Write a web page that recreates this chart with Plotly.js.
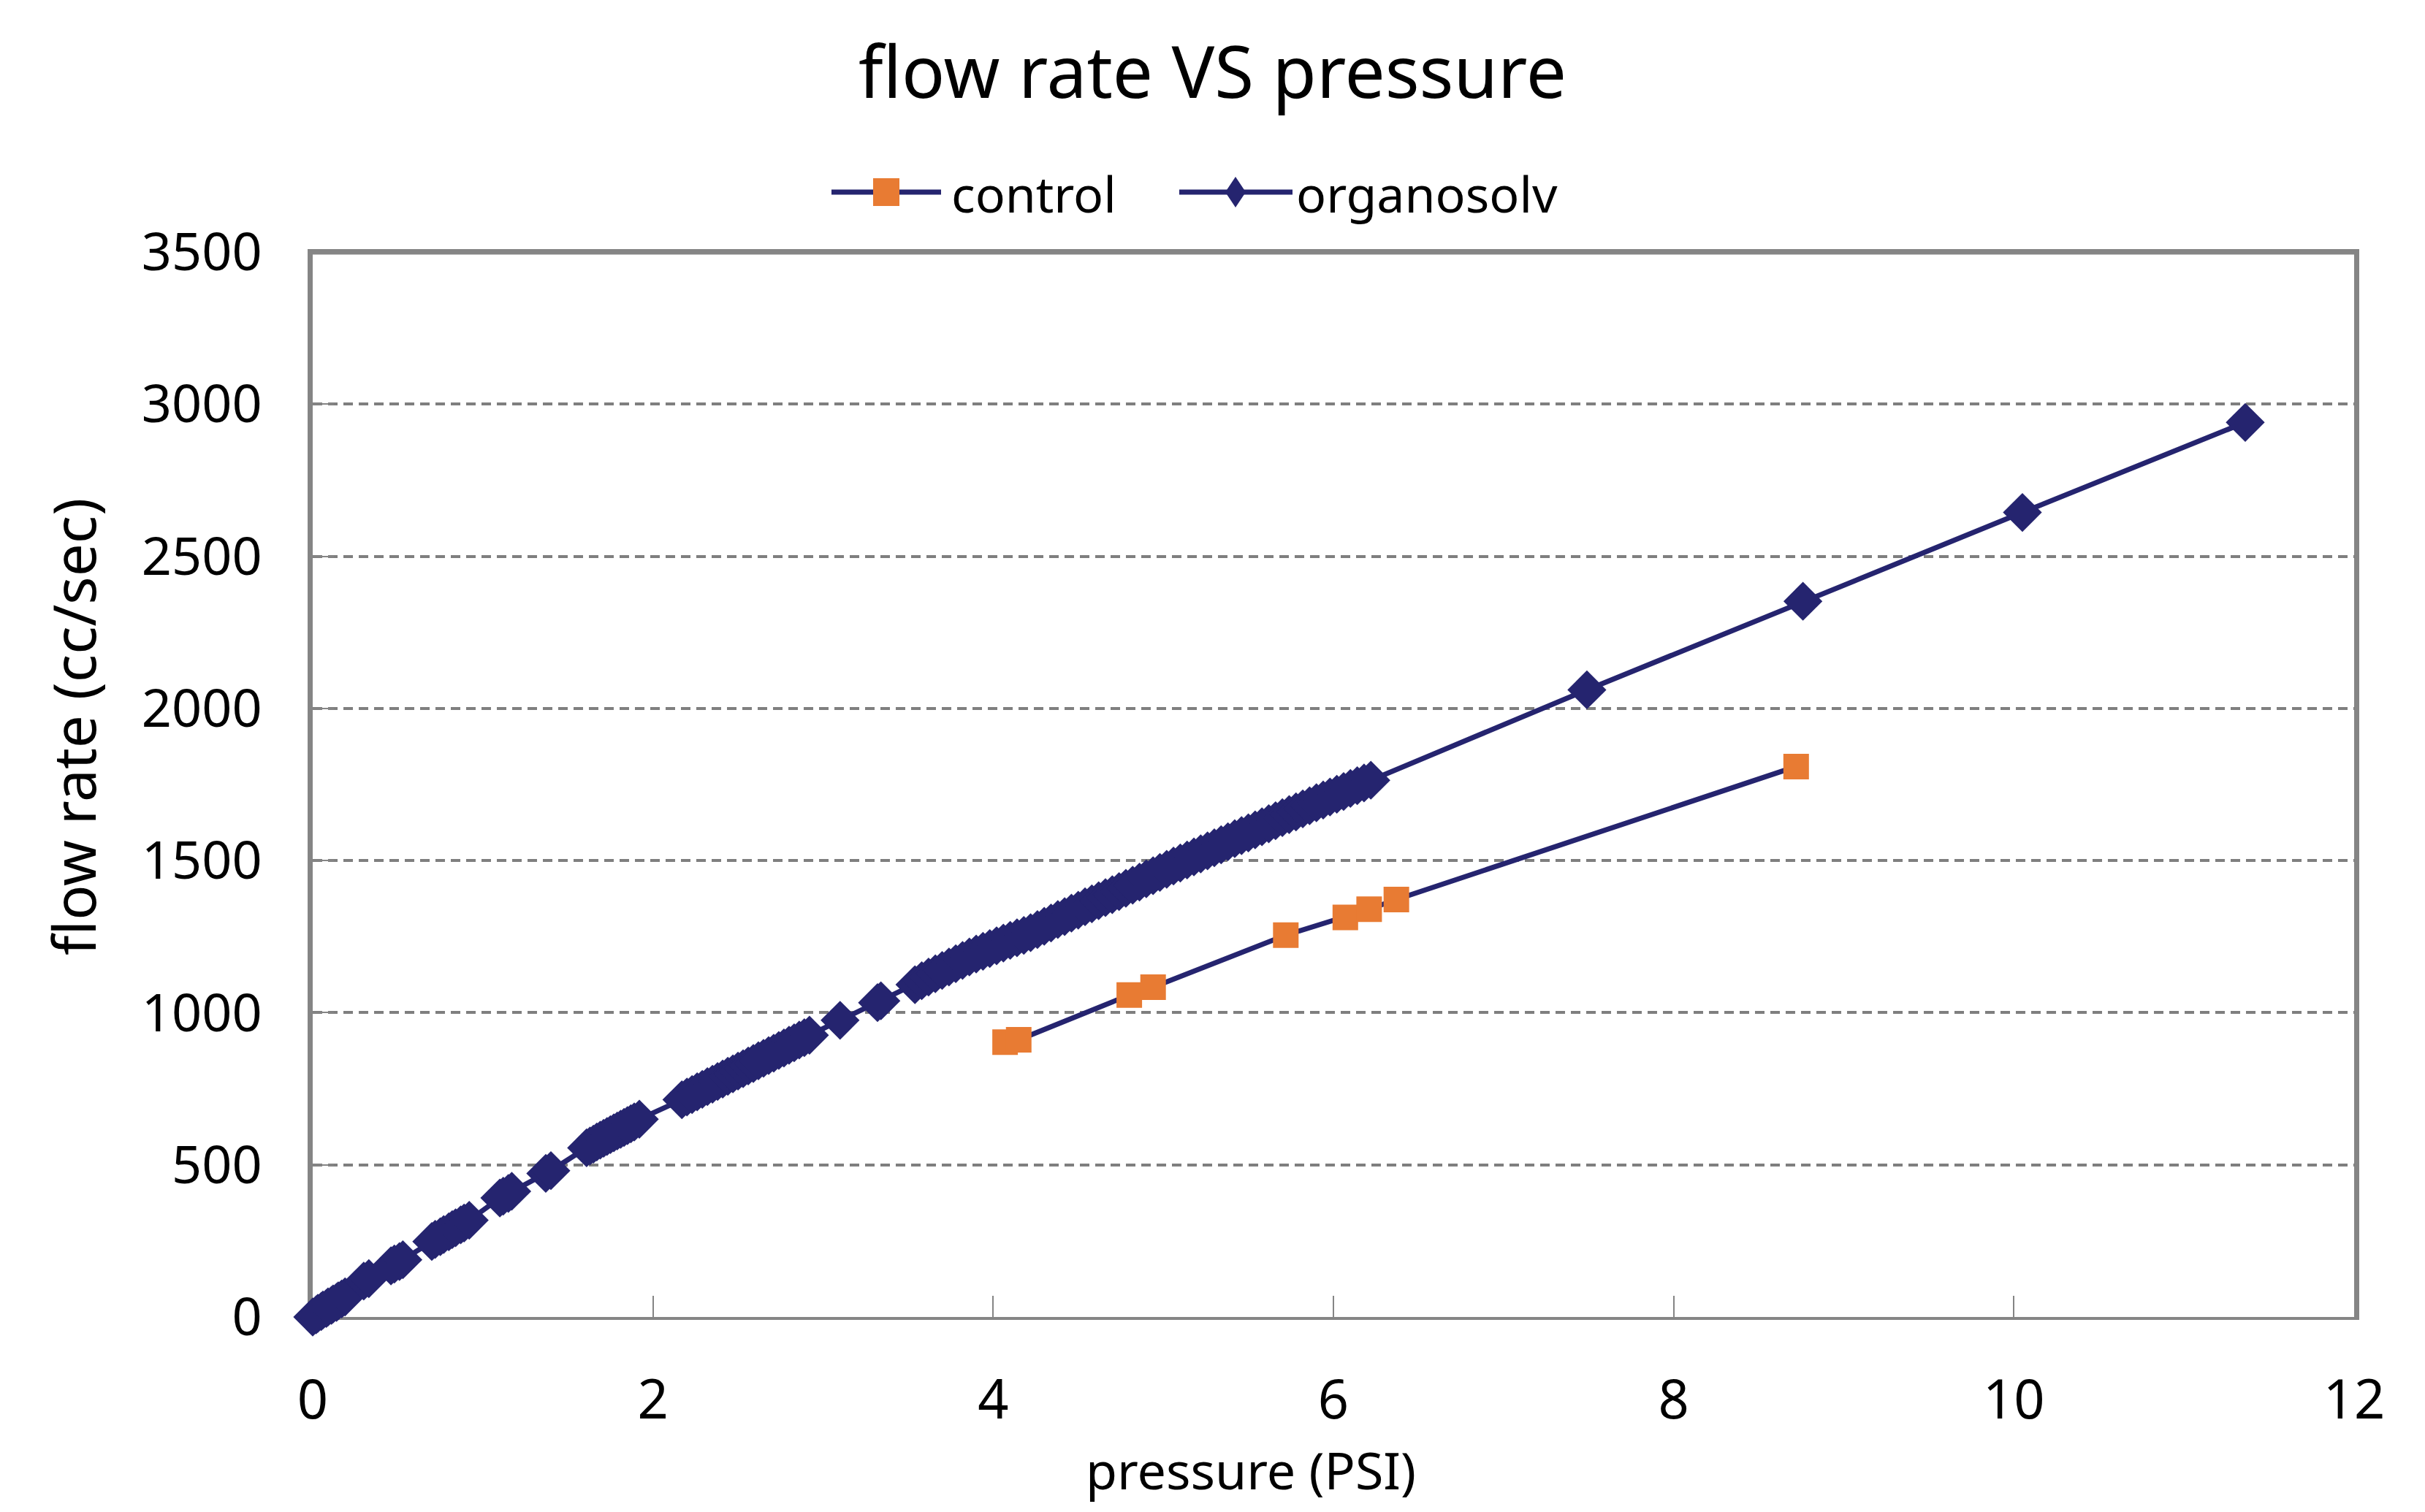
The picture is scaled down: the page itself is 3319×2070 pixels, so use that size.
<!DOCTYPE html>
<html>
<head>
<meta charset="utf-8">
<script src="https://cdn.plot.ly/plotly-3.0.1.min.js"></script>
<style>html,body{margin:0;padding:0;background:#ffffff;}</style>
</head>
<body>
<div id="chart" style="width:3319px;height:2070px;"></div>
<script>
// ---- data ----
const controlPressure = [4.07, 4.15, 4.80, 4.94, 5.72, 6.07, 6.21, 6.37, 8.72];
const controlFlow     = [903, 911, 1058, 1084, 1255, 1313, 1340, 1372, 1809];

const organosolvPressure = [
  0.00,0.02,0.03,0.05,0.06,0.08,0.09,0.11,0.12,0.14,0.15,0.17,0.19,
  0.30,0.33,
  0.46,0.48,0.51,0.53,
  0.70,0.72,0.75,0.77,0.80,0.82,0.84,0.87,0.89,0.92,
  1.10,1.12,1.15,1.17,
  1.37,1.40,
  1.61,1.63,1.65,1.67,1.69,1.71,1.73,1.75,1.77,1.79,1.81,1.83,1.85,1.87,1.89,1.92,
  2.17,2.20,2.23,2.26,2.29,2.32,2.35,2.38,2.41,2.44,2.47,2.50,2.53,2.56,2.59,2.62,2.65,2.68,2.71,2.74,2.77,2.80,2.83,2.86,2.89,2.92,
  3.10,
  3.32,3.34,
  3.54,3.58,3.62,3.66,3.70,3.74,3.78,3.82,3.86,3.90,3.94,3.98,4.02,4.06,4.10,4.14,4.18,4.22,4.26,4.30,
  4.34,4.38,4.42,4.46,4.50,4.54,4.58,4.62,4.66,4.70,4.74,4.78,4.82,4.86,4.90,4.94,4.98,5.02,5.06,5.10,
  5.14,5.18,5.22,5.26,5.30,5.34,5.38,5.42,5.46,5.50,5.54,5.58,5.62,5.66,5.70,5.74,5.78,5.82,5.86,5.90,
  5.94,5.98,6.02,6.06,6.10,6.14,6.18,6.22,
  7.49, 8.76, 10.05, 11.36
];
const organosolvFlow = [
  0,7,12,18,23,28,33,38,43,48,53,59,66,
  118,126,
  168,174,182,188,
  248,255,264,271,280,287,293,303,309,318,
  391,397,406,413,
  472,481,
  556,562,568,575,581,587,593,599,605,611,617,623,629,635,641,650,
  714,723,731,740,748,757,765,774,782,791,799,808,816,825,833,842,850,859,867,876,884,893,901,910,918,926,
  975,
  1033,1039,
  1092,1105,1117,1128,1139,1150,1161,1172,1183,1193,1202,1211,1220,1229,1238,1246,1254,1263,1273,1284,
  1295,1306,1316,1327,1337,1348,1358,1368,1378,1388,1398,1409,1419,1429,1440,1450,1461,1471,1482,1492,
  1502,1512,1522,1532,1542,1552,1562,1572,1582,1591,1601,1611,1621,1631,1641,1651,1660,1670,1680,1690,
  1699,1709,1718,1727,1737,1746,1755,1764,
  2061, 2352, 2644, 2940
];

const xTickVals = [0, 2, 4, 6, 8, 10, 12];
const yTickVals = [0, 500, 1000, 1500, 2000, 2500, 3000, 3500];
const seriesNames = ['control', 'organosolv'];

// ---- styling ----
const NAVY = '#25246f';
const ORANGE = '#e87b33';
const AXIS_GRAY = '#858585';
const FONT = 'Noto Sans, Open Sans, sans-serif';

const W = 3319, H = 2070;
const M = {l: 428, r: 97, t: 345, b: 267};
const PW = W - M.l - M.r, PH = H - M.t - M.b;
const px = v => (v - M.l) / PW;          // page x pixel -> paper x
const py = v => (H - M.b - v) / PH;      // page y pixel -> paper y

const traces = [
  {
    x: controlPressure, y: controlFlow, name: seriesNames[0],
    type: 'scatter', mode: 'lines+markers', cliponaxis: false, showlegend: false,
    line: {color: NAVY, width: 7},
    marker: {symbol: 'square', size: 35, color: ORANGE, line: {width: 0}}
  },
  {
    x: organosolvPressure, y: organosolvFlow, name: seriesNames[1],
    type: 'scatter', mode: 'lines+markers', cliponaxis: false, showlegend: false,
    line: {color: NAVY, width: 7},
    marker: {symbol: 'diamond', size: 41, color: NAVY, line: {width: 0}}
  }
];

// custom legend (line sample + marker + label) drawn in paper space
const legY = 263;
const shapes = [
  // top frame line (thicker than the x axis line)
  {type: 'line', xref: 'paper', yref: 'paper', x0: 0, x1: 1, y0: 1, y1: 1,
   line: {color: AXIS_GRAY, width: 7}, layer: 'above'},
  // legend: control
  {type: 'line', xref: 'paper', yref: 'paper', x0: px(1138), x1: px(1288), y0: py(legY), y1: py(legY),
   line: {color: NAVY, width: 7}},
  {type: 'rect', xref: 'paper', yref: 'paper', x0: px(1195), x1: px(1231), y0: py(legY + 19), y1: py(legY - 19),
   fillcolor: ORANGE, line: {width: 0}},
  // legend: organosolv
  {type: 'line', xref: 'paper', yref: 'paper', x0: px(1614), x1: px(1769), y0: py(legY), y1: py(legY),
   line: {color: NAVY, width: 7}},
  {type: 'path', xref: 'paper', yref: 'paper',
   path: 'M ' + px(1691) + ' ' + py(legY - 21) + ' L ' + px(1705) + ' ' + py(legY) +
         ' L ' + px(1691) + ' ' + py(legY + 21) + ' L ' + px(1677) + ' ' + py(legY) + ' Z',
   fillcolor: NAVY, line: {width: 0}}
];

const annotations = [
  {text: seriesNames[0], xref: 'paper', yref: 'paper', x: px(1300), y: py(legY + 2),
   xanchor: 'left', yanchor: 'middle', showarrow: false, font: {family: FONT, size: 68, color: '#000'}},
  {text: seriesNames[1], xref: 'paper', yref: 'paper', x: px(1772), y: py(legY + 2),
   xanchor: 'left', yanchor: 'middle', showarrow: false, font: {family: FONT, size: 68, color: '#000'}},
  {text: 'pressure (PSI)', xref: 'paper', yref: 'paper', x: px(1712), y: py(2012),
   xanchor: 'center', yanchor: 'middle', showarrow: false, font: {family: FONT, size: 70, color: '#000'}},
  {text: 'flow rate (cc/sec)', xref: 'paper', yref: 'paper', x: px(99), y: py(995),
   xanchor: 'center', yanchor: 'middle', textangle: -90, showarrow: false,
   font: {family: FONT, size: 80, color: '#000'}}
];

const layout = {
  width: W, height: H,
  margin: M,
  paper_bgcolor: '#ffffff', plot_bgcolor: '#ffffff',
  showlegend: false,
  title: {text: 'flow rate VS pressure', x: 0.5, xref: 'container', xanchor: 'center',
          y: 1 - 100 / H, yref: 'container', yanchor: 'middle',
          font: {family: FONT, size: 98, color: '#000'}},
  xaxis: {
    range: [0, 12], tickvals: xTickVals, ticktext: xTickVals.map(String),
    showgrid: false, zeroline: false,
    showline: true, linecolor: AXIS_GRAY, linewidth: 4, mirror: true,
    ticks: 'inside', ticklen: 29, tickwidth: 2, tickcolor: AXIS_GRAY,
    ticklabelstandoff: 46,
    tickfont: {family: FONT, size: 74, color: '#000'},
    layer: 'below traces'
  },
  yaxis: {
    range: [0, 3500], tickvals: yTickVals, ticktext: yTickVals.map(String),
    showgrid: true, gridcolor: '#7f7f7f', gridwidth: 4, griddash: '13px,8px',
    zeroline: false,
    showline: true, linecolor: AXIS_GRAY, linewidth: 7, mirror: true,
    ticks: 'inside', ticklen: 29, tickwidth: 2, tickcolor: AXIS_GRAY,
    ticklabelstandoff: 48,
    tickfont: {family: FONT, size: 72, color: '#000'},
    layer: 'below traces'
  },
  shapes: shapes,
  annotations: annotations
};

Plotly.newPlot('chart', traces, layout, {displayModeBar: false, staticPlot: true});
</script>
</body>
</html>
